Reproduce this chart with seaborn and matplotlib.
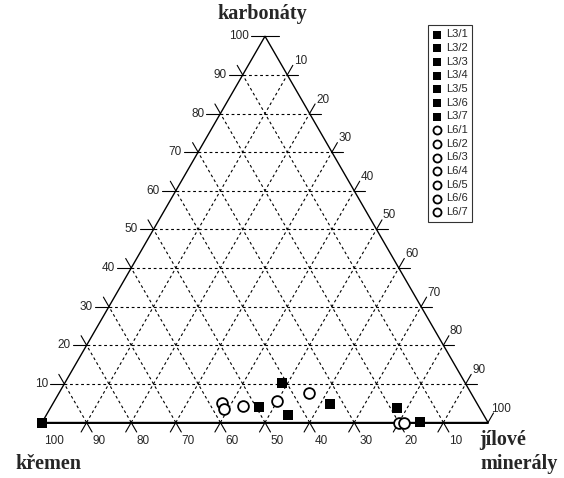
import numpy as np
import pandas as pd
import matplotlib
matplotlib.use("Agg")
import matplotlib.pyplot as plt
import seaborn as sns

# ternary data (percent): karbonaty, jilove mineraly (kremen = rest)
l3_names = ["L3/1", "L3/2", "L3/3", "L3/4", "L3/5", "L3/6", "L3/7"]
l3_karb = [0.0, 4.1, 10.3, 1.9, 4.7, 3.8, 0.1]
l3_jil = [0.0, 46.7, 48.7, 54.2, 62.2, 77.7, 84.7]

l6_names = ["L6/1", "L6/2", "L6/3", "L6/4", "L6/5", "L6/6", "L6/7"]
l6_karb = [5.1, 3.6, 4.3, 5.6, 7.6, 0.0, 0.0]
l6_jil = [37.7, 39.1, 43.0, 49.8, 56.0, 80.0, 81.1]

ticks = [10, 20, 30, 40, 50, 60, 70, 80, 90, 100]

H = np.sqrt(3) / 2
PX = 1 / 446.0  # one pixel in data units


def tern(karb, jil):
    k = np.asarray(karb) / 100.0
    j = np.asarray(jil) / 100.0
    return j + k / 2, k * H


sns.set_style("white")
plt.rcParams["font.family"] = ["Liberation Sans", "DejaVu Sans"]

fig = plt.figure(figsize=(5.64, 4.78), dpi=100)
ax = fig.add_axes([0, 0, 1, 1])
ax.set_xlim(-42 * PX, 522 * PX)
ax.set_ylim(-55.5 * PX, 422.5 * PX)
ax.set_aspect("equal")
ax.axis("off")

# outline
ax.plot([0, 1, 0.5, 0], [0, 0, H, 0], color="black", lw=1.0, zorder=3)
ax.plot([0, 1], [0, 0], color="black", lw=1.4, zorder=3)

dash = (0, (2.5, 2.5))
ext = 11 * PX
for v in range(10, 100, 10):
    f = v / 100.0
    # karbonaty constant (horizontal)
    xa, ya = f / 2, f * H
    xb, yb = 1 - f / 2, f * H
    ax.plot([xa, xb], [ya, yb], color="black", lw=0.8, ls=dash)
    ax.plot([xa - 14 * PX, xa], [ya, ya], color="black", lw=0.8)
    ax.plot([xb, xb + ext], [yb, yb], color="black", lw=0.8)
    # kremen constant (parallel to right side): from base to left side
    x0 = f
    xl, yl = f / 2, f * H
    ax.plot([x0, xl], [0, yl], color="black", lw=0.8, ls=dash)
    d = np.array([xl - x0, yl]) / np.hypot(xl - x0, yl)
    ax.plot([x0 - d[0] * ext, x0], [-d[1] * ext, 0], color="black", lw=0.8)
    ax.plot([xl, xl + d[0] * ext], [yl, yl + d[1] * ext], color="black", lw=0.8)
    # jil constant (parallel to left side): from base to right side
    x0 = f
    xr, yr = f + (1 - f) / 2, (1 - f) * H
    ax.plot([x0, xr], [0, yr], color="black", lw=0.8, ls=dash)
    d = np.array([xr - x0, yr]) / np.hypot(xr - x0, yr)
    ax.plot([x0 - d[0] * ext, x0], [-d[1] * ext, 0], color="black", lw=0.8)
    ax.plot([xr, xr + d[0] * ext], [yr, yr + d[1] * ext], color="black", lw=0.8)

# apex and right corner ticks
ax.plot([0.5 - 14 * PX, 0.5 + 14 * PX], [H, H], color="black", lw=0.8)
ax.plot([1, 1 + 0.5 * ext], [0, H * ext], color="black", lw=0.8)

# tick labels
tfs = 8.5
for v in ticks:
    f = v / 100.0
    # kremen along base
    ax.text(1 - f + 12 * PX, -18 * PX, str(v), ha="center", va="center", fontsize=tfs)
    # karbonaty along left side
    ax.text(f / 2 - 16 * PX, f * H, str(v), ha="right", va="center", fontsize=tfs)
    # jilove mineraly along right side
    ax.text(f + (1 - f) / 2 + 13 * PX, (1 - f) * H + 14 * PX, str(v),
            ha="center", va="center", fontsize=tfs)

# axis titles
tkw = dict(fontsize=14.5, fontweight="bold", family=["Liberation Serif", "DejaVu Serif"])
ax.text(0.493, 408.5 * PX, "karbonáty", ha="center", va="center", **tkw)
ax.text(6 * PX, -41.5 * PX, "křemen", ha="center", va="center", **tkw)
ax.text(437 * PX, -17.5 * PX, "jílové", ha="left", va="center", **tkw)
ax.text(438 * PX, -41 * PX, "minerály", ha="left", va="center", **tkw)

# data points
x3, y3 = tern(l3_karb, l3_jil)
x6, y6 = tern(l6_karb, l6_jil)
df3 = pd.DataFrame({"x": x3, "y": y3, "sample": l3_names})
df6 = pd.DataFrame({"x": x6, "y": y6, "sample": l6_names})
for i, row in df3.iterrows():
    sns.scatterplot(data=df3.iloc[[i]], x="x", y="y", marker="s", s=55,
                    color="black", edgecolor="black", linewidth=0,
                    label=row["sample"], ax=ax, zorder=5)
for i, row in df6.iterrows():
    sns.scatterplot(data=df6.iloc[[i]], x="x", y="y", marker="o", s=60,
                    facecolor="white", edgecolor="black", linewidth=1.3,
                    label=row["sample"], ax=ax, zorder=5)

leg = ax.legend(loc="upper left", bbox_to_anchor=(428 / 564, 1 - 25 / 478),
                bbox_transform=fig.transFigure, borderaxespad=0, fontsize=8,
                labelspacing=0.33, handletextpad=0.4, markerscale=0.75,
                fancybox=False, frameon=True, borderpad=0.4, handlelength=0.8)
leg.get_frame().set_edgecolor("black")
leg.get_frame().set_linewidth(0.8)

fig.savefig("out.png", dpi=100)
